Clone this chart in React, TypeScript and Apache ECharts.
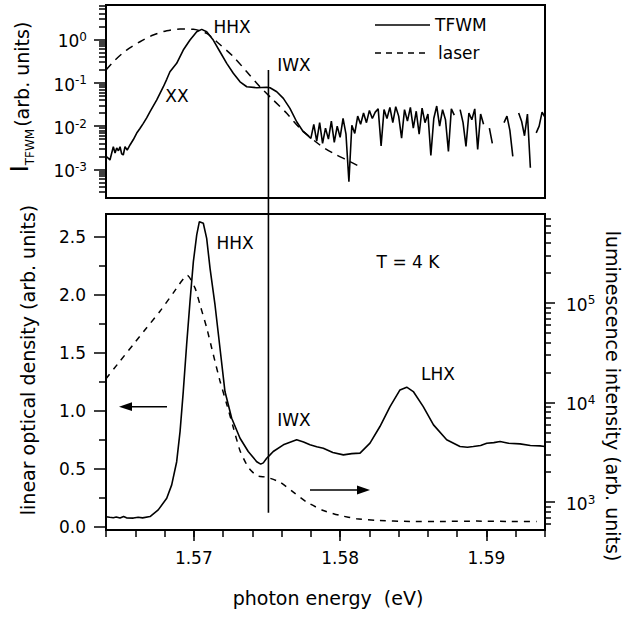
import React, { useEffect, useRef } from "react";
import * as echarts from "echarts";

// ---------- axes ----------
const X_MIN = 1.564;
const X_MAX = 1.594;
const X_MAJOR = [1.57, 1.58, 1.59];
const X_MINOR = [1.564, 1.566, 1.568, 1.57, 1.572, 1.574, 1.576, 1.578, 1.58, 1.582, 1.584, 1.586, 1.588, 1.59, 1.592, 1.594];

const TOP_Y_MIN = 2.2e-4;
const TOP_Y_MAX = 6.2;
const TOP_Y_MAJOR = [1e-3, 1e-2, 1e-1, 1];
const TOP_Y_MINOR = [3e-4, 4e-4, 5e-4, 6e-4, 7e-4, 8e-4, 9e-4, 2e-3, 3e-3, 4e-3, 5e-3, 6e-3, 7e-3, 8e-3, 9e-3, 2e-2, 3e-2, 4e-2, 5e-2, 6e-2, 7e-2, 8e-2, 9e-2, 0.2, 0.3, 0.4, 0.5, 0.6, 0.7, 0.8, 0.9, 2, 3, 4, 5, 6];

const OD_MIN = -0.03;
const OD_MAX = 2.7;
const OD_MAJOR = [0, 0.5, 1, 1.5, 2, 2.5];
const OD_MINOR = [0.25, 0.75, 1.25, 1.75, 2.25];

const LUM_MIN = 525;
const LUM_MAX = 7.8e5;
const LUM_MAJOR = [1e3, 1e4, 1e5];
const LUM_MINOR = [600, 700, 800, 900, 2000, 3000, 4000, 5000, 6000, 7000, 8000, 9000, 2e4, 3e4, 4e4, 5e4, 6e4, 7e4, 8e4, 9e4, 2e5, 3e5, 4e5, 5e5, 6e5, 7e5];

// ---------- top panel: TFWM ----------
const TFWM_SMOOTH_E = [1.56405, 1.56427, 1.5645, 1.56462, 1.56473, 1.56485, 1.56496, 1.56507, 1.56518, 1.5653, 1.56545, 1.56564, 1.56587, 1.5661, 1.56632, 1.56655, 1.56678, 1.56701, 1.56746, 1.56792, 1.56815, 1.56837, 1.5686, 1.56883, 1.56928, 1.56974, 1.5702, 1.57054, 1.57088, 1.57133, 1.57179, 1.57225, 1.5727, 1.57316, 1.57362, 1.5743, 1.57498, 1.57521, 1.57567, 1.57612, 1.57657, 1.57703, 1.57748, 1.5778];
const TFWM_SMOOTH_V = [0.00197, 0.00166, 0.00335, 0.0024, 0.00313, 0.0027, 0.00335, 0.0023, 0.00216, 0.00335, 0.0028, 0.00367, 0.0049, 0.00693, 0.0088, 0.0116, 0.0155, 0.0215, 0.0399, 0.0809, 0.12, 0.179, 0.225, 0.28, 0.567, 0.964, 1.5, 1.7, 1.5, 0.964, 0.518, 0.28, 0.165, 0.105, 0.0809, 0.0767, 0.0785, 0.0767, 0.062, 0.0437, 0.0257, 0.0126, 0.00743, 0.006];
const TFWM_NOISE_E = [1.578, 1.5782, 1.5784, 1.5786, 1.5788, 1.579, 1.5792, 1.5794, 1.5796, 1.5798, 1.58, 1.5802, 1.5804, 1.5806, 1.5808, 1.581, 1.5812, 1.5814, 1.5816, 1.5818, 1.582, 1.5822, 1.5824, 1.5826, 1.5828, 1.583, 1.5832, 1.5834, 1.5836, 1.5838, 1.584, 1.5842, 1.5844, 1.5846, 1.5848, 1.585, 1.5852, 1.5854, 1.5856, 1.5858, 1.586, 1.5862, 1.5864, 1.5866, 1.5868, 1.587, 1.5872, 1.5874, 1.5876, 1.5878, 1.588, 1.5882, 1.5884, 1.5886, 1.5888, 1.589, 1.5892, 1.5894, 1.5896, 1.5898, 1.59, 1.5902, 1.5904, 1.5906, 1.5908, 1.591, 1.5912, 1.5914, 1.5916, 1.5918, 1.592, 1.5922, 1.5924, 1.5926, 1.5928, 1.593, 1.5932, 1.5934, 1.5936, 1.5938, 1.594];
const TFWM_NOISE_V: (number | null)[] = [0.0052, 0.011, 0.0045, 0.012, 0.004, 0.009, 0.005, 0.013, 0.0042, 0.01, 0.0055, 0.015, 0.0065, 0.00052, 0.0105, 0.0068, 0.017, 0.011, 0.02, 0.012, 0.023, 0.015, 0.021, 0.025, 0.0035, 0.024, 0.015, 0.027, 0.012, 0.028, 0.017, 0.0053, 0.024, 0.013, 0.027, 0.009, 0.022, 0.0065, 0.026, 0.012, 0.019, 0.0021, 0.015, 0.029, 0.01, 0.024, 0.014, 0.0026, 0.025, 0.018, null, 0.024, 0.012, 0.0034, 0.02, 0.014, 0.025, 0.0029, 0.019, 0.011, null, 0.009, 0.004, null, 0.023, null, 0.012, 0.017, 0.008, 0.002, null, 0.02, 0.013, 0.006, 0.019, 0.0011, null, 0.007, 0.01, 0.021, 0.016];

// ---------- top panel: laser ----------
const LASER_E = [1.564, 1.56462, 1.56541, 1.56632, 1.56723, 1.56815, 1.56906, 1.56997, 1.57088, 1.57157, 1.5727, 1.57362, 1.57452, 1.57543, 1.57635, 1.57726, 1.57862, 1.57953, 1.58045, 1.58136];
const LASER_V = [0.196, 0.333, 0.567, 0.88, 1.26, 1.58, 1.73, 1.7, 1.37, 0.88, 0.4, 0.179, 0.081, 0.04, 0.0197, 0.0089, 0.00367, 0.00236, 0.00166, 0.00116];

// ---------- bottom panel: optical density ----------
const OD_E = [1.564, 1.56425, 1.5645, 1.5647, 1.56496, 1.5652, 1.5654, 1.56587, 1.5662, 1.5665, 1.56701, 1.56757, 1.56815, 1.56849, 1.56883, 1.56906, 1.56928, 1.56951, 1.56974, 1.56997, 1.5702, 1.57038, 1.57065, 1.57088, 1.57111, 1.57145, 1.57179, 1.57213, 1.57259, 1.57316, 1.57372, 1.5743, 1.57457, 1.57475, 1.57498, 1.57521, 1.57543, 1.57612, 1.57703, 1.5775, 1.57794, 1.5784, 1.57885, 1.5795, 1.58022, 1.5808, 1.58136, 1.58204, 1.58272, 1.58341, 1.58409, 1.58455, 1.585, 1.58568, 1.58638, 1.58728, 1.58819, 1.5887, 1.5891, 1.5896, 1.59002, 1.5905, 1.59093, 1.5915, 1.59229, 1.593, 1.59366, 1.594];
const OD_V = [0.085, 0.08, 0.076, 0.082, 0.073, 0.086, 0.075, 0.073, 0.08, 0.075, 0.086, 0.144, 0.245, 0.36, 0.56, 0.82, 1.166, 1.57, 1.943, 2.288, 2.52, 2.634, 2.62, 2.49, 2.231, 1.914, 1.54, 1.166, 0.936, 0.763, 0.648, 0.56, 0.539, 0.55, 0.59, 0.619, 0.648, 0.706, 0.749, 0.73, 0.706, 0.69, 0.677, 0.64, 0.619, 0.63, 0.634, 0.72, 0.864, 1.036, 1.18, 1.204, 1.166, 1.036, 0.878, 0.749, 0.691, 0.685, 0.691, 0.7, 0.72, 0.725, 0.734, 0.72, 0.714, 0.7, 0.697, 0.691];

// ---------- bottom panel: luminescence ----------
const LUM_E = [1.564, 1.56496, 1.56587, 1.56678, 1.56769, 1.5686, 1.56956, 1.57008, 1.57042, 1.57088, 1.57133, 1.57179, 1.57225, 1.5727, 1.57316, 1.57372, 1.5743, 1.57498, 1.57589, 1.5768, 1.57772, 1.57885, 1.57999, 1.58113, 1.5825, 1.58478, 1.58705, 1.58933, 1.59161, 1.59343];
const LUM_V = [17300, 26080, 38280, 56230, 82400, 125900, 188800, 141300, 96200, 56230, 30400, 16440, 9620, 5620, 3280, 2240, 1845, 1778, 1585, 1259, 1000, 824, 735, 681, 655, 640, 640, 645, 640, 640];

// IWX marker line
const IWX_ENERGY = 1.5751;
const IWX_TOP_VALUE = 0.196;
const IWX_BOTTOM_VALUE = 0.118;

const FONT = "DejaVu Sans";
const pow10 = (v: number) => "{b|10}{s|" + String(Math.round(Math.log10(v))) + "}";
const powRich = {
  b: { fontFamily: FONT, fontSize: 17, lineHeight: 17, padding: [2, 0, 3, 0], verticalAlign: "top", color: "#000" },
  s: { fontFamily: FONT, fontSize: 12, lineHeight: 12, padding: [0, 0, 10, 0], verticalAlign: "top", color: "#000" },
};

const pairs = (xs: number[], ys: (number | null)[]) =>
  xs.map((x, i) => [x, ys[i] === null ? "-" : ys[i]]);

const tickStyle = { color: "#000", width: 1.5 };
const hiddenLine = { show: false, onZero: false };

export default function App() {
  const ref = useRef<HTMLDivElement>(null);
  useEffect(() => {
    const el = ref.current!;
    const chart = echarts.init(el, undefined, { renderer: "svg" });
    const labelBase = { color: "#000", fontFamily: FONT, fontSize: 17 };
    chart.setOption({
      animation: false,
      backgroundColor: "#fff",
      grid: [
        { left: 106, top: 5, width: 439, height: 193, show: true, borderColor: "#000", borderWidth: 2, backgroundColor: "transparent" },
        { left: 106, top: 214, width: 439, height: 316, show: true, borderColor: "#000", borderWidth: 2, backgroundColor: "transparent" },
      ],
      xAxis: [
        { type: "value", gridIndex: 0, min: X_MIN, max: X_MAX, axisLine: hiddenLine, axisTick: { show: false }, axisLabel: { show: false }, splitLine: { show: false } },
        {
          type: "value", gridIndex: 1, position: "bottom", min: X_MIN, max: X_MAX, axisLine: hiddenLine,
          axisTick: { show: true, customValues: X_MAJOR, length: 11, lineStyle: tickStyle },
          axisLabel: { ...labelBase, margin: 19, customValues: X_MAJOR, formatter: (v: number) => v.toFixed(2) },
          splitLine: { show: false },
        },
        {
          type: "value", gridIndex: 1, position: "bottom", min: X_MIN, max: X_MAX, axisLine: hiddenLine,
          axisTick: { show: true, customValues: X_MINOR, length: 7, lineStyle: tickStyle },
          axisLabel: { show: false }, splitLine: { show: false },
        },
      ],
      yAxis: [
        {
          type: "log", gridIndex: 0, position: "left", min: TOP_Y_MIN, max: TOP_Y_MAX, axisLine: hiddenLine,
          axisTick: { show: true, customValues: TOP_Y_MAJOR, length: 12, lineStyle: tickStyle },
          axisLabel: { ...labelBase, margin: 19, customValues: TOP_Y_MAJOR, formatter: (v: number) => pow10(v), rich: powRich },
          splitLine: { show: false },
        },
        {
          type: "log", gridIndex: 0, position: "left", min: TOP_Y_MIN, max: TOP_Y_MAX, axisLine: hiddenLine,
          axisTick: { show: true, customValues: TOP_Y_MINOR, length: 7, lineStyle: tickStyle },
          axisLabel: { show: false }, splitLine: { show: false },
        },
        {
          type: "value", gridIndex: 1, position: "left", min: OD_MIN, max: OD_MAX, axisLine: hiddenLine,
          axisTick: { show: true, customValues: OD_MAJOR, length: 12, lineStyle: tickStyle },
          axisLabel: { ...labelBase, margin: 20, customValues: OD_MAJOR, formatter: (v: number) => v.toFixed(1) },
          splitLine: { show: false },
        },
        {
          type: "value", gridIndex: 1, position: "left", min: OD_MIN, max: OD_MAX, axisLine: hiddenLine,
          axisTick: { show: true, customValues: OD_MINOR, length: 7, lineStyle: tickStyle },
          axisLabel: { show: false }, splitLine: { show: false },
        },
        {
          type: "log", gridIndex: 1, position: "right", min: LUM_MIN, max: LUM_MAX, axisLine: hiddenLine,
          axisTick: { show: true, customValues: LUM_MAJOR, length: 10, lineStyle: tickStyle },
          axisLabel: { ...labelBase, margin: 21, customValues: LUM_MAJOR, formatter: (v: number) => pow10(v), rich: powRich },
          splitLine: { show: false },
        },
        {
          type: "log", gridIndex: 1, position: "right", min: LUM_MIN, max: LUM_MAX, axisLine: hiddenLine,
          axisTick: { show: true, customValues: LUM_MINOR, length: 6, lineStyle: tickStyle },
          axisLabel: { show: false }, splitLine: { show: false },
        },
      ],
      series: [
        {
          type: "line", xAxisIndex: 0, yAxisIndex: 0, silent: true, showSymbol: false, connectNulls: false,
          data: pairs([...TFWM_SMOOTH_E, ...TFWM_NOISE_E], [...TFWM_SMOOTH_V, ...TFWM_NOISE_V]),
          lineStyle: { color: "#000", width: 1.6 },
        },
        {
          type: "line", xAxisIndex: 0, yAxisIndex: 0, silent: true, showSymbol: false, smooth: 0.3,
          data: pairs(LASER_E, LASER_V),
          lineStyle: { color: "#000", width: 1.5, type: [8, 6] },
        },
        {
          type: "line", xAxisIndex: 1, yAxisIndex: 2, silent: true, showSymbol: false,
          data: pairs(OD_E, OD_V),
          lineStyle: { color: "#000", width: 1.6 },
        },
        {
          type: "line", xAxisIndex: 1, yAxisIndex: 4, silent: true, showSymbol: false, smooth: 0.2,
          data: pairs(LUM_E, LUM_V),
          lineStyle: { color: "#000", width: 1.5, type: [6, 6] },
        },
      ],
    });

    const xPix = chart.convertToPixel({ xAxisIndex: 0 }, IWX_ENERGY) as number;
    const yTop = chart.convertToPixel({ yAxisIndex: 0 }, IWX_TOP_VALUE) as number;
    const yBot = chart.convertToPixel({ yAxisIndex: 2 }, IWX_BOTTOM_VALUE) as number;

    const txt = (text: string, x: number, y: number, size = 17, align = "center") => ({
      type: "text", x, y, silent: true,
      style: { text, fill: "#000", fontFamily: FONT, fontSize: size, align, textAlign: align, verticalAlign: "middle", textVerticalAlign: "middle" },
    });
    const line = (x1: number, y1: number, x2: number, y2: number, dash?: number[]) => ({
      type: "line", silent: true,
      shape: { x1, y1, x2, y2 },
      style: { stroke: "#000", lineWidth: 1.6, lineDash: dash },
    });

    chart.setOption({
      graphic: [
        line(xPix, yTop, xPix, yBot),
        txt("HHX", 232, 27),
        txt("XX", 177, 96),
        txt("IWX", 294, 65),
        line(375, 25, 430, 25),
        txt("TFWM", 435, 25, 17, "left"),
        line(375, 53, 430, 53, [6, 5]),
        txt("laser", 438, 53, 17, "left"),
        txt("HHX", 235, 243),
        txt("T = 4 K", 408, 262),
        txt("IWX", 294, 420),
        txt("LHX", 438, 374),
        line(167, 406.7, 128, 406.7),
        { type: "polygon", silent: true, shape: { points: [[119, 406.7], [132, 402.3], [132, 411.1]] }, style: { fill: "#000" } },
        line(310, 490, 360, 490),
        { type: "polygon", silent: true, shape: { points: [[370, 490], [357, 485.6], [357, 494.4]] }, style: { fill: "#000" } },
        {
          type: "text", x: 20, y: 97, rotation: Math.PI / 2, silent: true,
          style: {
            text: "{i|I}{s|TFWM}{t|(arb. units)}",
            align: "center", verticalAlign: "middle", textAlign: "center", textVerticalAlign: "middle",
            fill: "#000",
            rich: {
              i: { fontFamily: FONT, fontSize: 24, lineHeight: 24, verticalAlign: "top", fill: "#000" },
              s: { fontFamily: FONT, fontSize: 12, lineHeight: 12, verticalAlign: "top", padding: [16, 2, 0, 0], fill: "#000" },
              t: { fontFamily: FONT, fontSize: 19, lineHeight: 19, verticalAlign: "top", padding: [4, 0, 0, 0], fill: "#000" },
            },
          },
        },
        { ...txt("linear optical density (arb. units)", 28, 360, 19), rotation: Math.PI / 2 },
        { ...txt("luminescence intensity (arb. units)", 613, 396, 19), rotation: -Math.PI / 2 },
        txt("photon energy  (eV)", 328, 598, 19),
      ],
    });
    return () => chart.dispose();
  }, []);
  return (
    <div
      ref={ref}
      style={{ position: "absolute", left: 0, top: 0, width: 629, height: 619, background: "#fff" }}
    />
  );
}
